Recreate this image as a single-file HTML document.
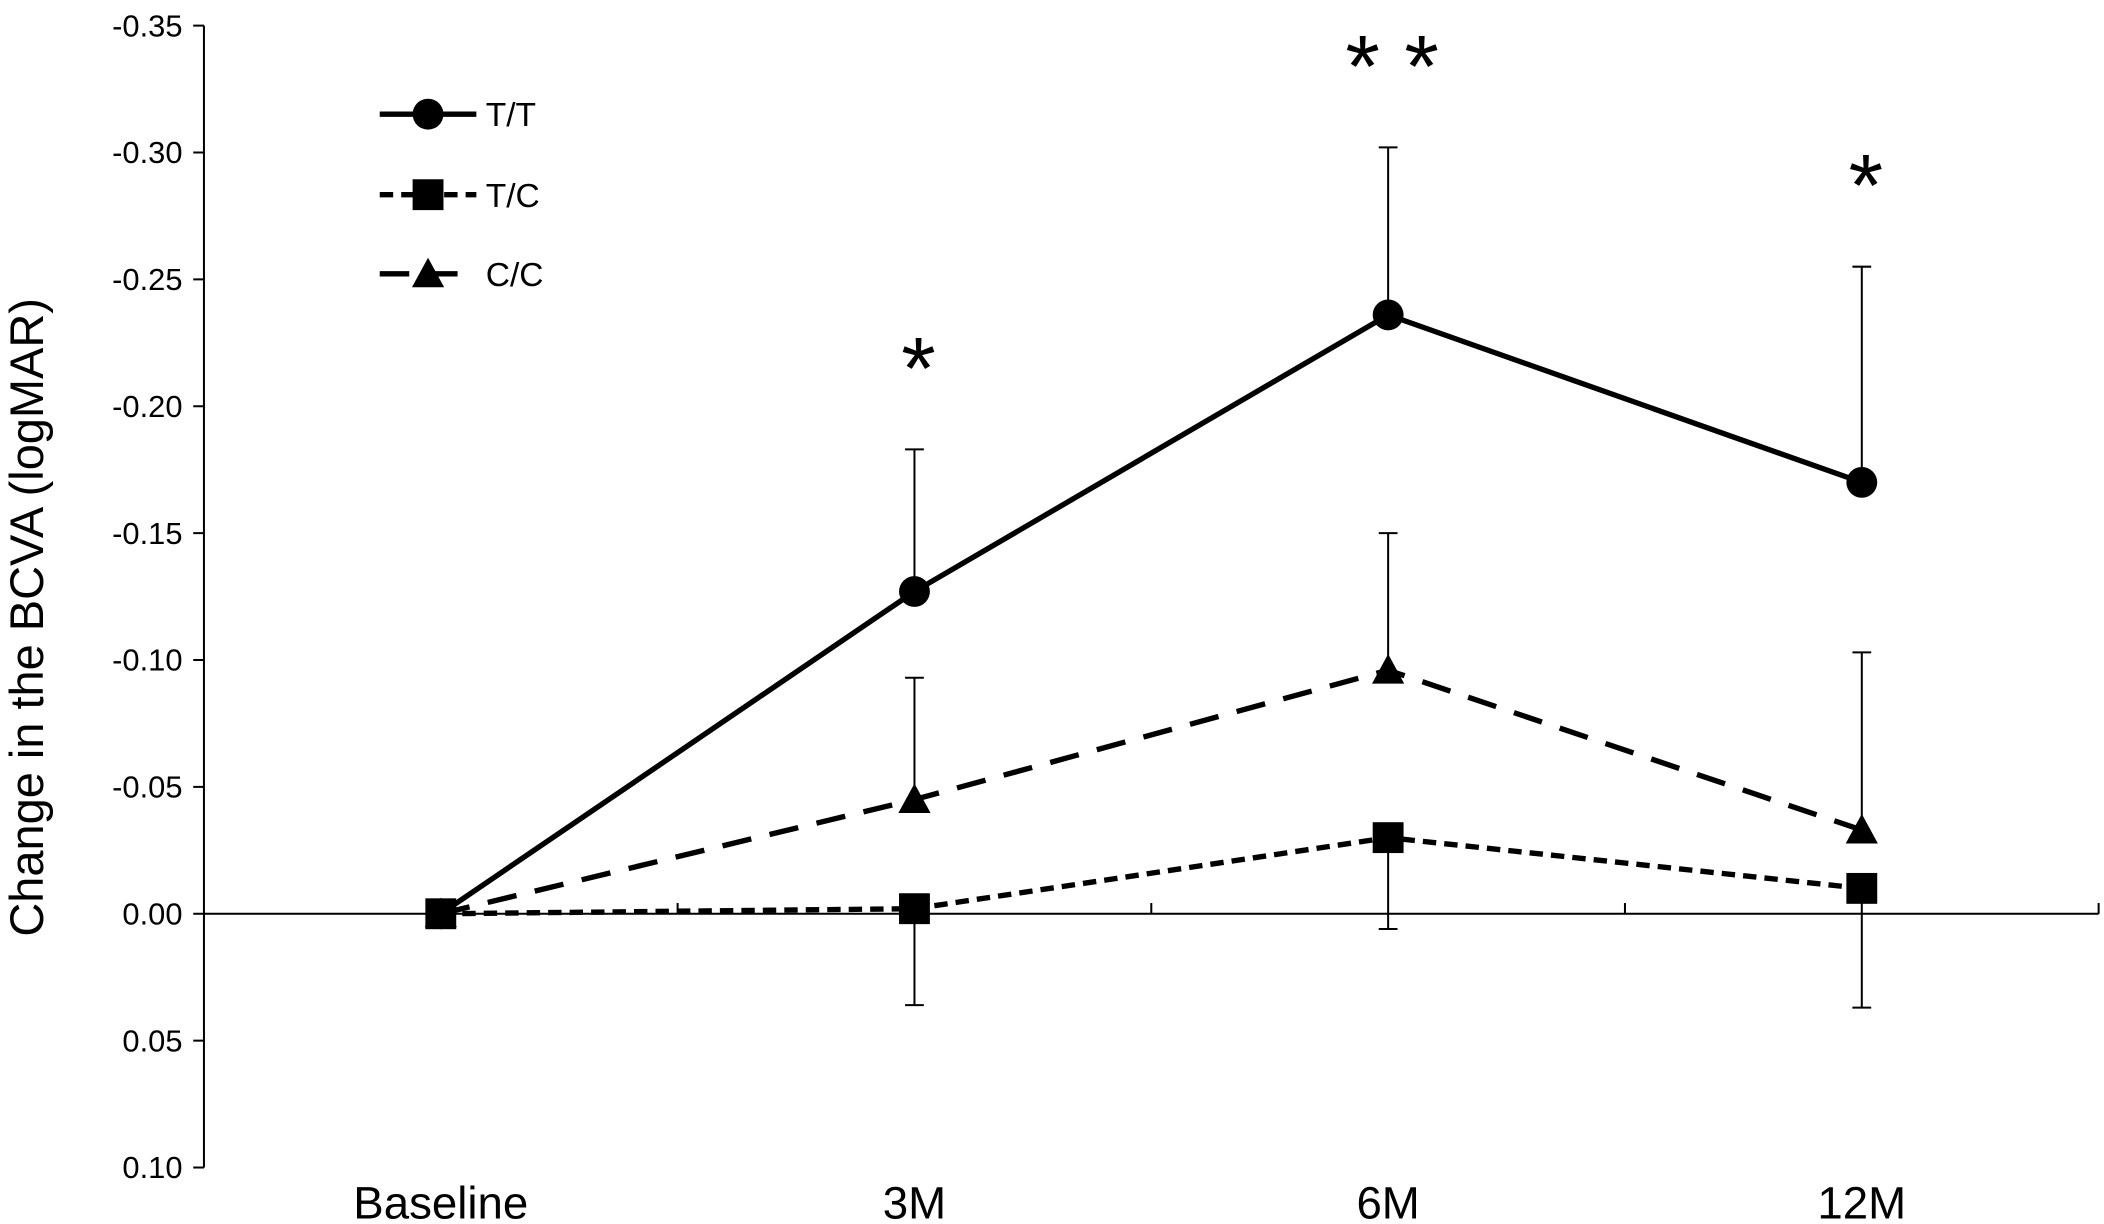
<!DOCTYPE html>
<html><head><meta charset="utf-8"><style>
html,body{margin:0;padding:0;background:#fff;}
svg{display:block;}
text{font-family:"Liberation Sans",Arial,sans-serif;fill:#000;}
</style></head><body>
<svg id="chart" width="2104" height="1224" viewBox="0 0 1568 912" xmlns="http://www.w3.org/2000/svg"></svg>
<script>
const categories = ["Baseline","3M","6M","12M"];
const ttValues = [0, -0.127, -0.236, -0.170];
const ttErrors = [0, 0.056, 0.066, 0.085];
const tcValues = [0, -0.002, -0.030, -0.010];
const tcErrors = [0, 0.038, 0.036, 0.047];
const ccValues = [0, -0.045, -0.096, -0.033];
const ccErrors = [0, 0.048, 0.054, 0.070];
const yTicks = [-0.35,-0.30,-0.25,-0.20,-0.15,-0.10,-0.05,0.00,0.05,0.10];
const yTickLabels = ["-0.35","-0.30","-0.25","-0.20","-0.15","-0.10","-0.05","0.00","0.05","0.10"];
const significance = ["", "*", "* *", "*"];

const svg = document.getElementById('chart');
const NS = 'http://www.w3.org/2000/svg';
const yTop = 19, yBot = 870, vTop = -0.35, vBot = 0.10;
const y = v => yTop + (v - vTop) / (vBot - vTop) * (yBot - yTop);
const axisX = 152, catW = 353;
const x = i => axisX + catW * (i + 0.5);
function mk(tag, attrs, parent) {
  const e = document.createElementNS(NS, tag);
  for (const k in attrs) e.setAttribute(k, attrs[k]);
  (parent || svg).appendChild(e);
  return e;
}
let el = mk('line', {x1: axisX, y1: yTop, x2: axisX, y2: yBot, stroke: '#000', 'stroke-width': 1.5});


yTicks.forEach((t, i) => {
  const tk = mk('line', {x1: axisX - 8, y1: y(t), x2: axisX, y2: y(t), stroke: '#000', 'stroke-width': 1.5});
  
  
  const lb = mk('text', {x: axisX - 16, y: y(t) + 8, 'text-anchor': 'end', 'font-size': 23});
  lb.textContent = yTickLabels[i];
  
  
});
el = mk('line', {x1: axisX, y1: y(0), x2: axisX + catW * 4, y2: y(0), stroke: '#000', 'stroke-width': 1.5});


for (let i = 1; i <= 4; i++) {
  const tk = mk('line', {x1: axisX + catW * i, y1: y(0) - 8, x2: axisX + catW * i, y2: y(0), stroke: '#000', 'stroke-width': 1.5});
  
  
}
categories.forEach((c, i) => {
  const lb = mk('text', {x: x(i), y: 908, 'text-anchor': 'middle', 'font-size': 34});
  lb.textContent = c;
  
  
});
el = mk('text', {x: 0, y: 0, 'text-anchor': 'middle', 'font-size': 35, transform: 'translate(32,460) rotate(-90)'});
el.textContent = 'Change in the BCVA (logMAR)';



function series(vals, errs, dash, marker, name, errDir) {
  const g = mk('g', {});
  
  
  vals.forEach((v, i) => {
    if (!errs[i]) return;
    const e = v + errDir * errs[i];
    mk('line', {x1: x(i), y1: y(v), x2: x(i), y2: y(e), stroke: '#000', 'stroke-width': 1.5}, g);
    mk('line', {x1: x(i) - 7, y1: y(e), x2: x(i) + 7, y2: y(e), stroke: '#000', 'stroke-width': 1.5}, g);
  });
  const pts = vals.map((v, i) => x(i) + ',' + y(v)).join(' ');
  const pl = mk('polyline', {points: pts, fill: 'none', stroke: '#000', 'stroke-width': 4, 'stroke-dasharray': dash}, g);
  
  
  vals.forEach((v, i) => drawMarker(marker, x(i), y(v), g, name));
}
function drawMarker(m, cx, cy, g, name) {
  let e;
  if (m === 'circle') e = mk('circle', {cx, cy, r: 11.5, fill: '#000'}, g);
  else if (m === 'square') e = mk('rect', {x: cx - 11.5, y: cy - 11.5, width: 23, height: 23, fill: '#000'}, g);
  else e = mk('polygon', {points: `${cx},${cy-12} ${cx+12},${cy+10} ${cx-12},${cy+10}`, fill: '#000'}, g);
  
  
}
series(ccValues, ccErrors, '22 14', 'triangle', 'cc', -1);
series(tcValues, tcErrors, '10 6', 'square', 'tc', 1);
series(ttValues, ttErrors, '', 'circle', 'tt', -1);

significance.forEach((s, i) => {
  if (!s) return;
  const top = ttValues[i] - ttErrors[i];
  const t = mk('text', {x: x(i) + 3, y: y(top) - 38, 'text-anchor': 'middle', 'font-size': 66});
  t.textContent = s;
  
  
});

const legend = [["T/T", '', 'circle', 85], ["T/C", '10 6', 'square', 145], ["C/C", '22 14', 'triangle', 204]];
legend.forEach(([lab, dash, m, ly]) => {
  const g = mk('g', {});
  
  
  mk('line', {x1: 283, y1: ly, x2: 355, y2: ly, stroke: '#000', 'stroke-width': 4, 'stroke-dasharray': dash}, g);
  drawMarker(m, 319, ly, g, 'legend');
  const t = mk('text', {x: 362, y: ly + 9, 'font-size': 25}, g);
  t.textContent = lab;
});
</script>
</body></html>
